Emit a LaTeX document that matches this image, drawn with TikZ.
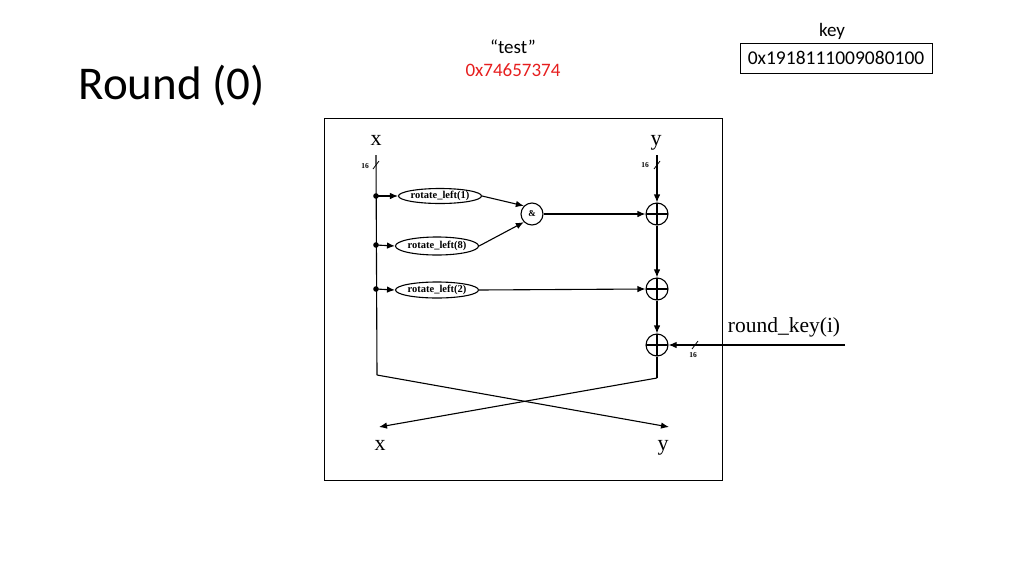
\documentclass[tikz,border=0pt]{standalone}
\usepackage{fontspec}
\setmainfont{Liberation Serif}
\newfontfamily\calibrifont{Carlito}
\usetikzlibrary{arrows.meta,shapes.geometric}
\begin{document}
\begin{tikzpicture}[x=1pt,y=-1pt,
  ln/.style={line width=1.1pt},
  arr/.style={ln,-{Latex[length=8pt,width=6.5pt]}},
  rot/.style={draw,ln,ellipse,inner sep=0pt,font=\bfseries\fontsize{10.5}{11}\selectfont},
  xorn/.style={draw,ln,circle,minimum size=22pt,inner sep=0pt,path picture={
     \draw[ln] (path picture bounding box.north) -- (path picture bounding box.south)
               (path picture bounding box.west) -- (path picture bounding box.east);}},
  lbl/.style={font=\fontsize{22}{24}\selectfont,anchor=base},
  small/.style={font=\bfseries\fontsize{7.5}{8}\selectfont},
  cal/.style={font=\calibrifont\fontsize{19}{21}\selectfont}]
\useasboundingbox (0,0) rectangle (1024,576);
% header texts
\node[font=\calibrifont\fontsize{47}{50}\selectfont,anchor=west] (title) at (75,86) {Round (0)};
\node[cal] (test) at (513,47) {“test”};
\node[cal,text={rgb,255:red,230;green,30;blue,30}] (hex) at (513,70) {0x74657374};
\node[cal] (keylbl) at (832,31) {key};
\node[cal,draw,line width=0.6pt,minimum width=192pt,minimum height=30pt,inner sep=1pt,font=\calibrifont\fontsize{19.5}{21}\selectfont] (keybox) at (836,58) {0x1918111009080100};
% frame
\node[draw,line width=1pt,minimum width=398pt,minimum height=362pt,inner sep=0pt] (frame) at (523,299) {};
% labels
\node[lbl] (xin) at (376,145) {x};
\node[lbl] (yin) at (656,145) {y};
\node[lbl] (xout) at (380,450) {x};
\node[lbl] (yout) at (663,450) {y};
% coordinates of x line
\coordinate (xtop) at (376,155);
\coordinate (d1) at (376,196);
\coordinate (d2) at (376,245);
\coordinate (d3) at (376,289);
\coordinate (xbot) at (377,375);
\coordinate (ytop) at (657,155);
% nodes
\node[rot,minimum width=76pt,minimum height=15pt] (r1) at (440,196) {rotate\_left(1)};
\node[rot,minimum width=70pt,minimum height=18pt] (r8) at (437,246) {rotate\_left(8)};
\node[rot,minimum width=70pt,minimum height=16pt] (r2) at (437,290) {rotate\_left(2)};
\node[draw,ln,circle,minimum size=22pt,inner sep=0pt,font=\bfseries\fontsize{9}{9}\selectfont] (and) at (532,214) {\&};
\node[xorn] (x1) at (657,214) {};
\node[xorn] (x2) at (657,289) {};
\node[xorn] (x3) at (657,345) {};
\coordinate (ybot) at (657,378);
\coordinate (kin) at (845,345);
\coordinate (xarr) at (379,427);
\coordinate (yarr) at (669,427);
\node[font=\fontsize{21.5}{23}\selectfont] (rk) at (784,327) {round\_key(i)};
% x line
\draw[ln] (xtop) -- (xbot);
\foreach \d in {d1,d2,d3} \fill (\d) circle (2.8pt);
\draw[arr] (d1) -- (r1.west);
\draw[arr] (d2) -- (r8.west);
\draw[arr] (d3) -- (r2.west);
\draw[arr] (r1.east) -- (and.north west);
\draw[arr] (r8.east) -- (and.south west);
\draw[arr] (and.east) -- (x1.west);
\draw[arr] (r2.east) -- (x2.west);
\draw[arr] (ytop) -- (x1.north);
\draw[arr] (x1.south) -- (x2.north);
\draw[arr] (x2.south) -- (x3.north);
\draw[arr] (kin) -- (x3.east);
\draw[ln] (x3.south) -- (ybot);
\draw[arr] (xbot) -- (yarr);
\draw[arr] (ybot) -- (xarr);
% bus slashes
\draw[line width=0.8pt] (373,169) -- (379,161);
\node[small] (s1) at (365,166) {16};
\draw[line width=0.8pt] (654,169) -- (660,161);
\node[small] (s2) at (645,165) {16};
\draw[line width=0.8pt] (692,349) -- (698,341);
\node[small] (s3) at (693,355) {16};
\end{tikzpicture}
\end{document}
